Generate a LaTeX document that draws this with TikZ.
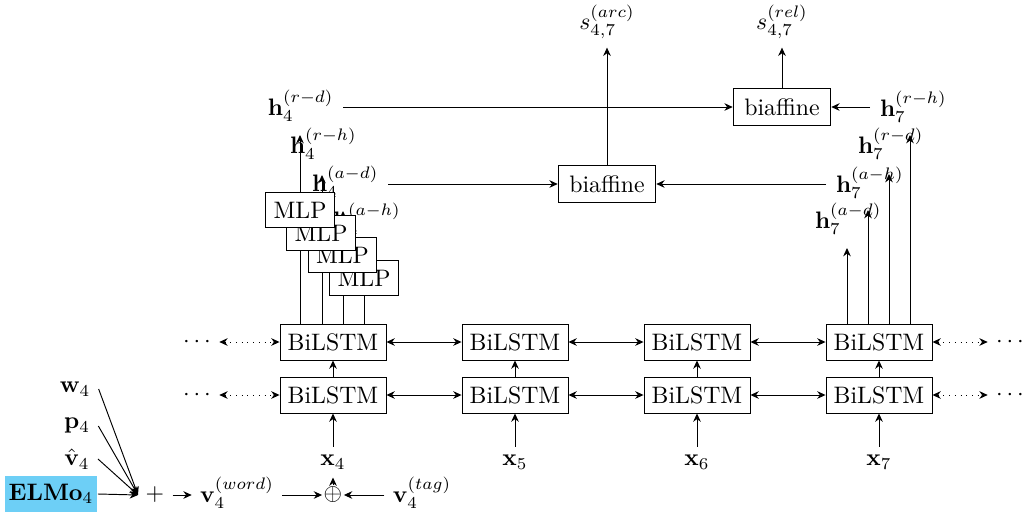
\documentclass[tikz,border=0pt]{standalone}
\usetikzlibrary{arrows.meta,calc}
\definecolor{elmo}{HTML}{6DCFF6}
\begin{document}
\begin{tikzpicture}[x=0.42pt,y=-0.42pt,
  >={Stealth[length=3.5pt,width=3.2pt]},
  box/.style={draw,fill=white,inner sep=1pt},
  lstm/.style={box,minimum width=44.5pt,minimum height=15.1pt},
  mlp/.style={box,minimum width=28.6pt,minimum height=14.7pt},
  baff/.style={box,minimum width=41pt,minimum height=15.5pt},
  lab/.style={inner sep=4pt,anchor=base west},
  dotarr/.style={<->,dotted},
]
\useasboundingbox (0,0) rectangle (1034,523);

% BiLSTM layers
\foreach \i/\x in {4/333,5/515,6/697,7/879}{
  \node[lstm] (U\i) at (\x,342) {BiLSTM};
  \node[lstm] (L\i) at (\x,395) {BiLSTM};
  \node (X\i) at (\x,462) {$\mathbf{x}_{\i}$};
  \draw[->] (X\i) -- (L\i);
  \draw[->] (L\i) -- (U\i);
}
\foreach \a/\b in {4/5,5/6,6/7}{
  \draw[<->] (U\a) -- (U\b);
  \draw[<->] (L\a) -- (L\b);
}
\node (DLu) at (197,342) {$\cdots$};
\node (DLl) at (197,395) {$\cdots$};
\node (DRu) at (1010,342) {$\cdots$};
\node (DRl) at (1010,395) {$\cdots$};
\draw[dotarr] (DLu) -- (U4);
\draw[dotarr] (DLl) -- (L4);
\draw[dotarr] (U7) -- (DRu);
\draw[dotarr] (L7) -- (DRl);

% labels
\node[lab] (h4rd) at (258,115) {$\mathbf{h}_4^{(r-d)}$};
\node[lab] (h4rh) at (280,153) {$\mathbf{h}_4^{(r-h)}$};
\node[lab] (h4ad) at (302,191) {$\mathbf{h}_4^{(a-d)}$};
\node[lab] (h4ah) at (323,228) {$\mathbf{h}_4^{(a-h)}$};
\node[lab] (h7rh) at (870,116) {$\mathbf{h}_7^{(r-h)}$};
\node[lab] (h7rd) at (848,153) {$\mathbf{h}_7^{(r-d)}$};
\node[lab] (h7ah) at (826,192) {$\mathbf{h}_7^{(a-h)}$};
\node[lab] (h7ad) at (805,228) {$\mathbf{h}_7^{(a-d)}$};

% biaffine
\node[baff] (bf1) at (607,184) {biaffine};
\node[baff] (bf2) at (782,107) {biaffine};
\node (sarc) at (607,22) {$s_{4,7}^{(arc)}$};
\node (srel) at (782,22) {$s_{4,7}^{(rel)}$};
\draw[->] (bf1) -- (sarc);
\draw[->] (bf2) -- (srel);
\draw[->] (h4rd.east |- bf2) -- (bf2);
\draw[->] (h4ad.east |- bf1) -- (bf1);
\draw[->] (h7ah.west |- bf1) -- (bf1);
\draw[->] (h7rh.west |- bf2) -- (bf2);

% vertical connectors
\coordinate (tl1) at (300,135);
\coordinate (tl2) at (322,175);
\coordinate (tl3) at (343,211);
\coordinate (m4c) at (364,278);
\draw[->] ($(U4.north)+(-33,0)$) -- (tl1);
\draw[->] ($(U4.north)+(-11,0)$) -- (tl2);
\draw[->] ($(U4.north)+(10,0)$) -- (tl3);
\draw ($(U4.north)+(31,0)$) -- (m4c);
\coordinate (tr1) at (847,248);
\coordinate (tr2) at (868,210);
\coordinate (tr3) at (889,174);
\coordinate (tr4) at (910,135);
\draw[->] ($(U7.north)+(-32,0)$) -- (tr1);
\draw[->] ($(U7.north)+(-11,0)$) -- (tr2);
\draw[->] ($(U7.north)+(10,0)$) -- (tr3);
\draw[->] ($(U7.north)+(31,0)$) -- (tr4);

% MLPs
\node[mlp] (M4) at (364,278) {MLP};
\node[mlp] (M3) at (342.5,255) {MLP};
\node[mlp] (M2) at (321,233) {MLP};
\node[mlp] (M1) at (300,210) {MLP};

% input
\node[fill=elmo,minimum width=39pt,minimum height=15pt,inner sep=1pt] (elmo) at (51,494) {$\mathbf{ELMo}_4$};
\node (w) at (75,389) {$\mathbf{w}_4$};
\node (p) at (77,426) {$\mathbf{p}_4$};
\node (vh) at (77,459) {$\hat{\mathbf{v}}_4$};
\coordinate (conv) at (138,495);
\draw[->] (w.east) -- (conv);
\draw[->] (p.east) -- (conv);
\draw[->] (vh.east) -- (conv);
\draw[->] (elmo.east) -- (conv);
\node (plus) at (155,495) {$+$};
\node (vw) at (237,493) {$\mathbf{v}_4^{(word)}$};
\node[inner sep=0.5pt] (op) at (333,495) {$\oplus$};
\node (vt) at (422,493) {$\mathbf{v}_4^{(tag)}$};
\draw[->] (plus) -- (plus -| vw.west);
\draw[->] (vw.east |- op) -- (op);
\draw[->] (vt.west |- op) -- (op);
\draw[->] (op) -- (X4);
\end{tikzpicture}
\end{document}
